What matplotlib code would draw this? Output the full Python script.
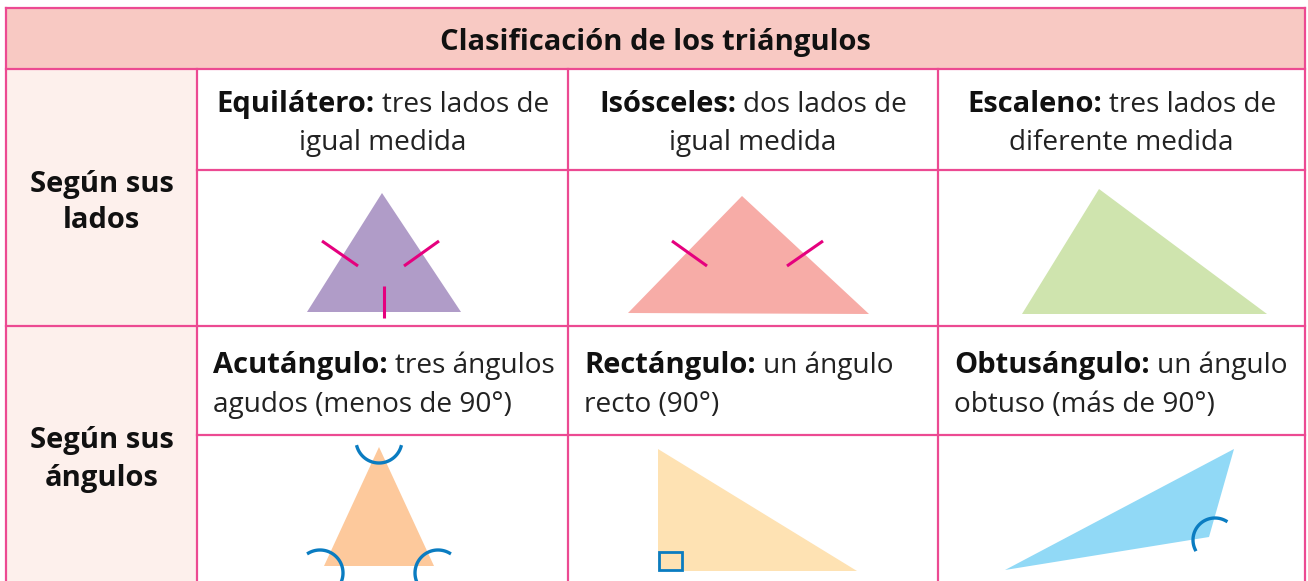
import numpy as np
import matplotlib
matplotlib.use("Agg")
import matplotlib.pyplot as plt
from matplotlib.patches import Polygon, Rectangle

plt.rcParams['font.family'] = ['Open Sans', 'DejaVu Sans']

W, H = 1308, 581
title = "Clasificación de los triángulos"
row_labels = [["Según sus", "lados"], ["Según sus", "ángulos"]]

# (bold term, rest of line 1, line 2)
side_texts = [("Equilátero:", "tres lados de", "igual medida"),
              ("Isósceles:", "dos lados de", "igual medida"),
              ("Escaleno:", "tres lados de", "diferente medida")]
angle_texts = [("Acutángulo:", "tres ángulos", "agudos (menos de 90°)"),
               ("Rectángulo:", "un ángulo", "recto (90°)"),
               ("Obtusángulo:", "un ángulo", "obtuso (más de 90°)")]

# triangle vertices (pixel coords, y down)
triangles = [
    [(307, 312), (382, 193), (461, 312)],
    [(628, 313), (742, 196), (869, 314)],
    [(1022, 314), (1099, 189), (1267, 314)],
    [(324, 566), (379, 447), (434, 566)],
    [(658, 571), (658, 449), (857, 571)],
    [(1005, 570), (1234, 449), (1209, 537)],
]
tri_colors = ['#b09cc8', '#f7aca7', '#cfe4ae', '#fdc99c', '#fee2b3', '#91d9f6']

# equal-side marks
ticks = [[(322, 241), (358, 266)], [(404, 266), (439, 241)], [(384, 286), (384, 318)],
         [(672, 241), (707, 266)], [(787, 266), (823, 241)]]

# angle arcs: centre x, centre y, radius, start deg, end deg
arcs = [(379, 440, 23, 197, 343),
        (320, 573, 23, -22, 120),
        (438, 573, 23, 60, 202),
        (1215, 540, 22, 60, 206)]
right_mark = (659, 552, 23, 18)

col_x = [6, 197, 568, 938, 1305]
row_y = [8, 69, 170, 326, 435, 581]

border = '#ec4a92'
tick_c = '#e5007e'
arc_c = '#0a7cc1'

fig = plt.figure(figsize=(W / 100, H / 100), dpi=100)
ax = fig.add_axes([0, 0, 1, 1])
ax.set_xlim(0, W)
ax.set_ylim(H, 0)
ax.axis('off')

# backgrounds
ax.add_patch(Rectangle((col_x[0], row_y[0]), col_x[-1] - col_x[0], row_y[1] - row_y[0],
                       facecolor='#f8c9c3', edgecolor='none'))
ax.add_patch(Rectangle((col_x[0], row_y[1]), col_x[1] - col_x[0], H - row_y[1],
                       facecolor='#fdf0ec', edgecolor='none'))

# grid lines
lw = 1.6
ax.plot([col_x[0], col_x[-1]], [row_y[0]] * 2, color=border, lw=lw)
ax.plot([col_x[0], col_x[-1]], [row_y[1]] * 2, color=border, lw=lw)
ax.plot([col_x[0], col_x[-1]], [row_y[3]] * 2, color=border, lw=lw)
for y in (row_y[2], row_y[4]):
    ax.plot([col_x[1], col_x[-1]], [y, y], color=border, lw=lw)
for x in (col_x[0], col_x[-1]):
    ax.plot([x, x], [row_y[0], H], color=border, lw=lw)
for x in col_x[1:-1]:
    ax.plot([x, x], [row_y[1], H], color=border, lw=lw)

# shapes
for pts, c in zip(triangles, tri_colors):
    ax.add_patch(Polygon(pts, closed=True, facecolor=c, edgecolor='none'))
for (a, b) in ticks:
    ax.plot([a[0], b[0]], [a[1], b[1]], color=tick_c, lw=2.2, solid_capstyle='butt')
for cx, cy, r, a0, a1 in arcs:
    t = np.radians(np.linspace(a0, a1, 60))
    ax.plot(cx + r * np.cos(t), cy - r * np.sin(t), color=arc_c, lw=2.4)
rx, ry, rw, rh = right_mark
ax.add_patch(Rectangle((rx, ry), rw, rh, facecolor='none', edgecolor=arc_c, lw=2.0))

# text
fs = 20.2
fsb = 21.0
fig.canvas.draw()
rend = fig.canvas.get_renderer()


def width(s, weight, size):
    t = ax.text(0, 0, s, fontsize=size, fontweight=weight)
    w = t.get_window_extent(renderer=rend).width
    t.remove()
    return w


space = width("a a", 'normal', fs) - width("aa", 'normal', fs)


def rich(x, y, bold, rest, ha):
    wb = width(bold, 'bold', fsb)
    wr = width(rest, 'normal', fs)
    total = wb + space + wr
    x0 = x - total / 2 if ha == 'center' else x
    ax.text(x0, y, bold, fontsize=fsb, fontweight='bold', va='baseline', color='#111111')
    ax.text(x0 + wb + space, y, rest, fontsize=fs, va='baseline', color='#222222')


ax.text((col_x[0] + col_x[-1]) / 2, 50, title, fontsize=fsb, fontweight='bold',
        ha='center', va='baseline', color='#111111')

for i, (b, r1, r2) in enumerate(side_texts):
    cx = (col_x[i + 1] + col_x[i + 2]) / 2
    rich(cx, 112, b, r1, 'center')
    ax.text(cx, 150, r2, fontsize=fs, ha='center', va='baseline', color='#222222')

for i, (b, r1, r2) in enumerate(angle_texts):
    x0 = col_x[i + 1] + 16
    rich(x0, 373, b, r1, 'left')
    ax.text(x0, 412, r2, fontsize=fs, ha='left', va='baseline', color='#222222')

lab_x = (col_x[0] + col_x[1]) / 2
for (l1, l2), (y1, y2) in zip(row_labels, [(192, 228), (448, 486)]):
    ax.text(lab_x, y1, l1, fontsize=fsb, fontweight='bold', ha='center', va='baseline', color='#111111')
    ax.text(lab_x, y2, l2, fontsize=fsb, fontweight='bold', ha='center', va='baseline', color='#111111')

fig.savefig('out.png', dpi=100, facecolor='white')
